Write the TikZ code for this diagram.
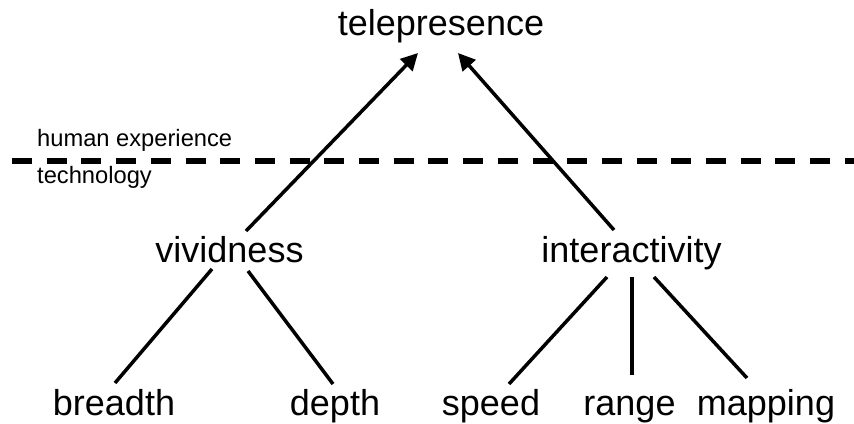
\documentclass[tikz,border=0pt]{standalone}
\usepackage{fontspec}
\setmainfont{Liberation Sans}
\usetikzlibrary{arrows.meta,calc}
\begin{document}
\begin{tikzpicture}[x=1pt,y=-1pt,
  big/.style={anchor=base,inner sep=0pt,font=\fontsize{36}{40}\selectfont},
  small/.style={anchor=base west,inner sep=0pt,font=\fontsize{23.7}{26}\selectfont},
  conn/.style={line width=3.5pt},
  arr/.style={line width=3.5pt,-{Triangle[length=17pt,width=17pt]}},
  divider/.style={line width=5.5pt,dash pattern=on 20pt off 14.7pt}]
\useasboundingbox (0,0) rectangle (854,423);
\node[big] (tele) at (441,35) {telepresence};
\node[big] (viv) at (229.5,262) {vividness};
\node[big] (int) at (631.5,262) {interactivity};
\node[big] (bre) at (114,415) {breadth};
\node[big] (dep) at (335,415) {depth};
\node[big] (spe) at (491,415) {speed};
\node[big] (ran) at (629.5,415) {range};
\node[big] (map) at (766,415) {mapping};
\node[small] (hum) at (37,146) {human experience};
\node[small] (tec) at (37,183) {technology};
\coordinate (dl) at (12,161);
\coordinate (dr) at (860,161);
\draw[divider] (dl) -- (dr);
\draw[arr] ($(viv.base)+(16.5,-31)$) -- ($(tele.base)+(-23,18)$);
\draw[arr] ($(int.base)+(-17.5,-32)$) -- ($(tele.base)+(17,18)$);
\draw[conn] ($(viv.base)+(-17.5,7)$) -- ($(bre.base)+(1,-32)$);
\draw[conn] ($(viv.base)+(18.5,9)$) -- ($(dep.base)+(-2,-31)$);
\draw[conn] ($(int.base)+(-24.5,15)$) -- ($(spe.base)+(18,-31)$);
\draw[conn] ($(int.base)+(0.5,15)$) -- ($(ran.base)+(2.5,-40)$);
\draw[conn] ($(int.base)+(22.5,15)$) -- ($(map.base)+(-19,-37)$);
\end{tikzpicture}
\end{document}
